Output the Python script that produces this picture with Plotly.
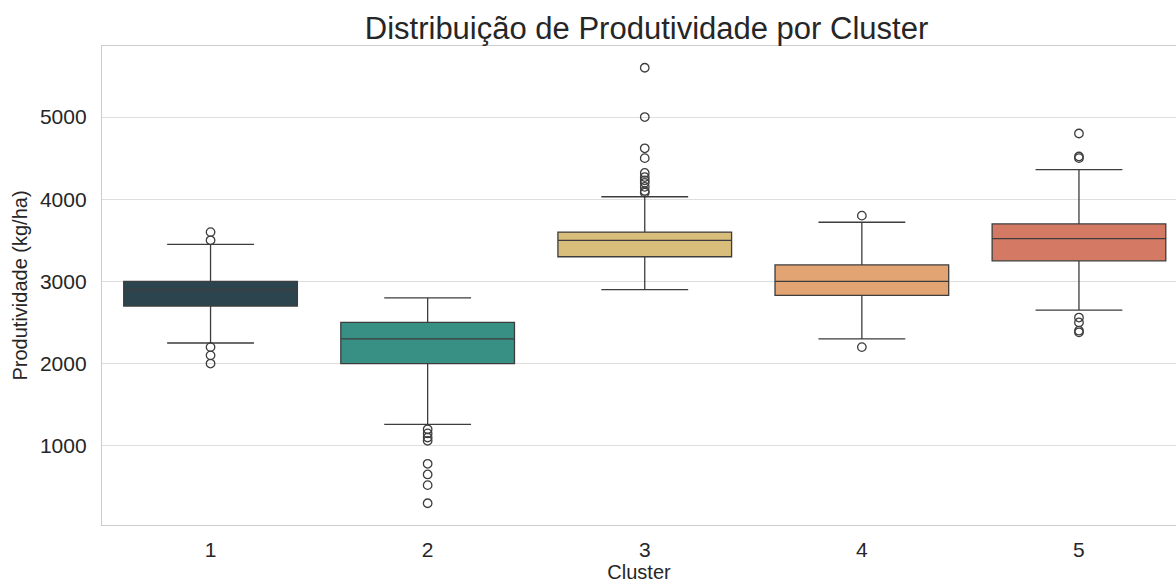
import colorsys
import plotly.graph_objects as go

# ---- data ----
clusters = ["1", "2", "3", "4", "5"]
q1 = [2700, 2000, 3300, 2830, 3250]
median = [2900, 2300, 3500, 3000, 3520]
q3 = [3000, 2500, 3600, 3200, 3700]
lower_whisker = [2250, 1260, 2900, 2300, 2650]
upper_whisker = [3450, 2800, 4030, 3720, 4360]
outliers_1 = [3600, 3500, 2200, 2100, 2000]
outliers_2 = [1200, 1150, 1100, 1060, 780, 650, 520, 300]
outliers_3 = [5600, 5000, 4620, 4500, 4320, 4270, 4230, 4200, 4150, 4100, 4080]
outliers_4 = [3800, 2200]
outliers_5 = [4800, 4520, 4500, 2560, 2500, 2400, 2380]
outliers = [outliers_1, outliers_2, outliers_3, outliers_4, outliers_5]

base_palette = ["#264653", "#2a9d8f", "#e9c46a", "#f4a261", "#e76f51"]


def desaturate(hex_color, prop=0.75):
    r, g, b = (int(hex_color[i:i + 2], 16) / 255 for i in (1, 3, 5))
    h, l, s = colorsys.rgb_to_hls(r, g, b)
    r, g, b = colorsys.hls_to_rgb(h, l, s * prop)
    return "#%02x%02x%02x" % (round(r * 255), round(g * 255), round(b * 255))


line_col = "#3d3d3d"
fig = go.Figure()
for i, c in enumerate(clusters):
    fig.add_trace(go.Box(
        x=[c], q1=[q1[i]], median=[median[i]], q3=[q3[i]],
        lowerfence=[lower_whisker[i]], upperfence=[upper_whisker[i]],
        boxpoints=False, width=0.8, whiskerwidth=0.5,
        fillcolor=desaturate(base_palette[i]),
        line=dict(color=line_col, width=1.3),
        showlegend=False, hoverinfo="skip",
    ))
    fig.add_trace(go.Scatter(
        x=[c] * len(outliers[i]), y=outliers[i], mode="markers",
        marker=dict(symbol="circle-open", size=8.5, color=line_col,
                    line=dict(width=1.3, color=line_col)),
        showlegend=False, hoverinfo="skip",
    ))

font_family = "Liberation Sans, Arial, sans-serif"
fig.update_layout(
    width=1176, height=583,
    margin=dict(l=102, r=0, t=46, b=58),
    paper_bgcolor="white", plot_bgcolor="white",
    font=dict(family=font_family, color="#262626"),
    title=dict(text="Distribuição de Produtividade por Cluster",
               x=0.507, xref="paper", xanchor="center",
               y=1 - 28 / 583, yref="container", yanchor="middle",
               font=dict(size=31, color="#262626")),
)
fig.update_xaxes(
    type="category", categoryorder="array", categoryarray=clusters,
    range=[-0.5, 4.447], showgrid=False, automargin=False,
    showline=True, linecolor="#cccccc", linewidth=1.3, mirror=True,
    ticks="", ticklabelstandoff=6, tickfont=dict(size=21, color="#262626"),
    title=dict(text="Cluster", font=dict(size=20, color="#262626"), standoff=2),
    zeroline=False,
)
fig.update_yaxes(
    range=[35, 5865], tickvals=[1000, 2000, 3000, 4000, 5000],
    showgrid=True, gridcolor="#dedede", gridwidth=1.2, automargin=False,
    showline=True, linecolor="#cccccc", linewidth=1.3, mirror=False,
    ticks="", ticklabelstandoff=10, tickfont=dict(size=21, color="#262626"),
    title=dict(text="Produtividade (kg/ha)", font=dict(size=20, color="#262626"), standoff=6),
    zeroline=False,
)

fig.write_html(
    "out.html",
    config={"displayModeBar": False},
    post_script="document.body.style.margin='0';document.body.style.overflow='hidden';",
)
